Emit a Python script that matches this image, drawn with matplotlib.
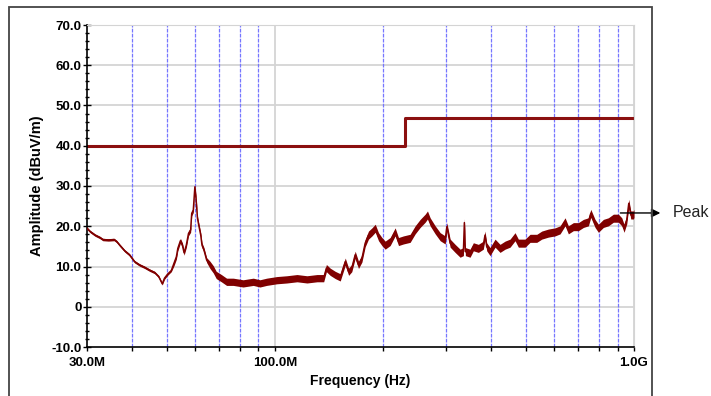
import matplotlib.pyplot as plt
import matplotlib.patches as patches
from matplotlib.ticker import FixedLocator, FixedFormatter, MultipleLocator

plt.rcParams['font.family'] = ['Liberation Sans', 'DejaVu Sans']

freq_mhz = [30.0, 30.6, 31.6, 32.6, 33.2, 34.4, 35.7, 36.3, 37.0, 38.2, 39.4, 40.7,
            42.0, 43.4, 44.8, 46.3, 47.5, 48.6, 49.3, 50.3, 51.5, 52.4, 53.2, 53.7,
            54.6, 55.3, 55.9, 56.7, 57.5, 58.3, 58.7, 59.3, 59.9, 60.4, 60.9, 61.4,
            62.2, 62.7, 63.5, 64.6, 66.0, 67.4, 68.7, 71.0, 73.4, 76.6, 81.6, 87.1,
            90.9, 94.9, 101.3, 108.0, 115.3, 122.9, 131.1, 136.8, 139.2, 142.6, 147.3,
            152.1, 157.1, 160.5, 163.8, 167.4, 171.0, 174.8, 178.5, 182.3, 186.4,
            190.4, 194.4, 198.7, 202.9, 209.5, 216.3, 221.0, 228.1, 238.1, 245.9,
            253.9, 262.2, 266.1, 270.7, 279.6, 288.7, 298.1, 301.3, 307.7, 317.7,
            328.0, 335.0, 337.1, 339.3, 349.6, 357.1, 368.7, 380.6, 384.8, 389.0,
            397.4, 410.4, 423.7, 437.5, 451.8, 466.5, 476.5, 497.4, 513.6, 536.2,
            553.6, 577.6, 602.9, 622.6, 642.9, 656.6, 678.0, 700.0, 722.9, 746.5,
            758.1, 779.1, 795.8, 821.7, 848.4, 876.1, 904.6, 924.6, 938.3, 954.7,
            967.1, 979.5, 996.1, 1000.0]
amp = [19.5, 18.7, 17.8, 17.2, 16.7, 16.6, 16.7, 16.2, 15.3, 13.9, 12.9, 11.2,
       10.4, 9.8, 9.1, 8.5, 7.5, 5.7, 7.1, 8.1, 9.0, 10.8, 12.4, 14.5,
       16.4, 15.3, 13.4, 15.3, 18.2, 19.1, 23.2, 24.0, 29.8, 26.5, 22.0, 20.3,
       17.8, 15.3, 14.1, 11.6, 10.4, 9.3, 7.9, 7.1, 6.2, 6.2, 5.8, 6.2,
       5.8, 6.2, 6.6, 6.8, 7.1, 6.8, 7.1, 7.1, 9.6, 8.7, 7.9,
       7.3, 11.2, 8.7, 9.6, 12.9, 10.4, 12.0, 15.8, 17.8, 18.6,
       19.5, 17.4, 16.2, 15.3, 16.2, 18.6, 16.2, 16.6, 17.0, 19.1,
       20.7, 22.0, 22.8, 21.1, 19.1, 17.4, 16.6, 19.9, 15.8, 14.5,
       13.3, 13.7, 20.9, 13.7, 13.3, 14.9, 14.5, 15.3, 17.8, 14.9,
       13.7, 15.8, 14.5, 15.3, 15.8, 17.4, 15.8, 15.8, 17.0, 17.0,
       17.8, 18.3, 18.6, 19.1, 21.1, 19.1, 19.9, 19.9, 20.7, 21.1,
       23.2, 20.7, 19.5, 20.7, 21.1, 22.0, 22.0, 21.1, 19.5, 21.6,
       25.7, 22.8, 22.8, 23.2]

# Thickness of the noisy band around the trace, by frequency range (MHz, half width dB)
band_regions = [(30, 52, 0.3), (52, 66, 0.6), (66, 180, 0.9), (180, 1001, 1.0)]

# Limit line
limit_freq_mhz = [30.0, 230.0, 230.0, 1000.0]
limit_amp = [40.0, 40.0, 47.0, 47.0]

# Vertical grid positions (MHz)
decade_lines = [100.0, 1000.0]
minor_lines = [40, 50, 60, 70, 80, 90, 200, 300, 400, 500, 600, 700, 800, 900]
x_tick_mhz = [30, 40, 50, 60, 70, 80, 90, 100, 200, 300, 400, 500, 600, 700, 800, 900, 1000]
x_tick_labels = ['30.0M', '', '', '', '', '', '', '100.0M', '', '', '', '', '', '', '', '', '1.0G']
y_ticks = [-10, 0, 10, 20, 30, 40, 50, 60, 70]
y_tick_labels = ['-10.0', '0', '10.0', '20.0', '30.0', '40.0', '50.0', '60.0', '70.0']

red = '#800000'
freq = [f * 1e6 for f in freq_mhz]


def band_width(f):
    for lo, hi, w in band_regions:
        if lo <= f < hi:
            return w
    return 0.0


noise = [band_width(f) for f in freq_mhz]
lower = [a - n for a, n in zip(amp, noise)]
upper = [a + n for a, n in zip(amp, noise)]

fig = plt.figure(figsize=(7.11, 3.96), dpi=100)
ax = fig.add_axes([87 / 711, 1 - 347 / 396, 547 / 711, 322 / 396])

# outer frame of the figure (bottom edge runs off the picture)
fig.patches.append(patches.Rectangle((9 / 711, -0.05), 643 / 711, 1.05 - 7 / 396,
                                     transform=fig.transFigure, fill=False,
                                     edgecolor='#444444', linewidth=1.3))

ax.set_xscale('log')
ax.set_xlim(30e6, 1e9)
ax.set_ylim(-10, 70)

# grid
for y in y_ticks[1:]:
    ax.axhline(y, color='#d4d4d4', linewidth=1.3, zorder=0)
for f in decade_lines:
    ax.axvline(f * 1e6, color='#d4d4d4', linewidth=1.3, zorder=0)
for f in minor_lines:
    ax.axvline(f * 1e6, color='#7676ff', linewidth=0.9, linestyle=(0, (3, 1)), zorder=0)

# limit line and measured trace
ax.plot([f * 1e6 for f in limit_freq_mhz], limit_amp, color='#8b1010', linewidth=2.2, zorder=2)
ax.fill_between(freq, lower, upper, color=red, linewidth=0, zorder=3)
ax.plot(freq, amp, color=red, linewidth=1.1, zorder=3)

# axes styling
ax.spines['top'].set_color('#d4d4d4')
ax.spines['right'].set_color('#d4d4d4')
ax.spines['left'].set_linewidth(1.2)
ax.spines['bottom'].set_linewidth(1.2)

ax.xaxis.set_major_locator(FixedLocator([f * 1e6 for f in x_tick_mhz]))
ax.xaxis.set_major_formatter(FixedFormatter(x_tick_labels))
ax.xaxis.set_minor_locator(FixedLocator([]))
ax.yaxis.set_major_locator(FixedLocator(y_ticks))
ax.yaxis.set_major_formatter(FixedFormatter(y_tick_labels))
ax.yaxis.set_minor_locator(MultipleLocator(2))

ax.tick_params(axis='x', which='major', direction='out', length=3, width=1, pad=4, labelsize=9.5)
ax.tick_params(axis='y', which='major', direction='inout', length=6, width=1, pad=1, labelsize=9.5)
ax.tick_params(axis='y', which='minor', direction='inout', length=3.5, width=1)
for lab in ax.get_xticklabels() + ax.get_yticklabels():
    lab.set_fontweight('bold')

ax.set_xlabel('Frequency (Hz)', fontsize=10, fontweight='bold', labelpad=4)
ax.set_ylabel('Amplitude (dBuV/m)', fontsize=10.5, fontweight='bold', labelpad=5)

# peak marker
ax.annotate('', xy=(1.205e9, 23.3), xytext=(900e6, 23.3), xycoords='data',
            arrowprops=dict(arrowstyle='-|>', color='black', linewidth=1, mutation_scale=13),
            annotation_clip=False)
ax.text(1.28e9, 23.3, 'Peak', fontsize=11.5, va='center', ha='left', color='#222222', clip_on=False)

fig.savefig('out.png', dpi=100)
